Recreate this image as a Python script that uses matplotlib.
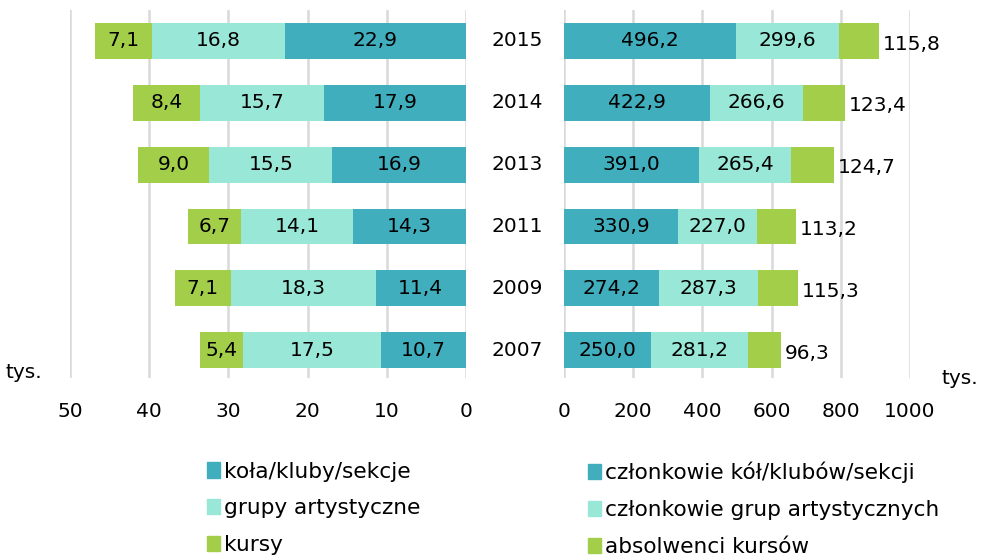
import numpy as np
import matplotlib
matplotlib.use("Agg")
import matplotlib.pyplot as plt
from matplotlib.patches import Patch

plt.rcParams['font.family'] = ['DejaVu Sans']

years = ['2015', '2014', '2013', '2011', '2009', '2007']

# liczba (tys.)
kola = [22.9, 17.9, 16.9, 14.3, 11.4, 10.7]
grupy = [16.8, 15.7, 15.5, 14.1, 18.3, 17.5]
kursy = [7.1, 8.4, 9.0, 6.7, 7.1, 5.4]

# uczestnicy (tys.)
czl_kol = [496.2, 422.9, 391.0, 330.9, 274.2, 250.0]
czl_grup = [299.6, 266.6, 265.4, 227.0, 287.3, 281.2]
absolwenci = [115.8, 123.4, 124.7, 113.2, 115.3, 96.3]

c_teal = '#41AEBE'
c_mint = '#99E8D7'
c_green = '#A2CE49'
fs = 14.5
fs_leg = 15.6

def fmt(v):
    return f"{v:.1f}".replace('.', ',')

fig = plt.figure(figsize=(9.85, 5.58), dpi=100)
axL = fig.add_axes([70/985, 1-378/558, (466-70)/985, (378-10)/558])
axR = fig.add_axes([564/985, 1-378/558, (910-564)/985, (378-10)/558])

y = np.arange(len(years))[::-1]
h = 0.58

# lewy panel
left = np.zeros(len(years))
for vals, col in [(kola, c_teal), (grupy, c_mint), (kursy, c_green)]:
    vals = np.array(vals)
    axL.barh(y, vals, left=left, height=h, color=col, zorder=3)
    for yi, l, v in zip(y, left, vals):
        axL.text(l + v/2, yi, fmt(v), ha='center', va='center', fontsize=fs, zorder=4)
    left = left + vals
axL.set_xlim(50, 0)
axL.set_xticks([50, 40, 30, 20, 10, 0])

# prawy panel
left = np.zeros(len(years))
for i, (vals, col) in enumerate([(czl_kol, c_teal), (czl_grup, c_mint), (absolwenci, c_green)]):
    vals = np.array(vals)
    axR.barh(y, vals, left=left, height=h, color=col, zorder=3)
    for yi, l, v in zip(y, left, vals):
        if i < 2:
            axR.text(l + v/2, yi, fmt(v), ha='center', va='center', fontsize=fs, zorder=4)
        else:
            axR.text(l + v + 10, yi - 0.05, fmt(v), ha='left', va='center', fontsize=fs,
                     zorder=4, clip_on=False)
    left = left + vals
axR.set_xlim(0, 1000)
axR.set_xticks([0, 200, 400, 600, 800, 1000])

for ax in (axL, axR):
    ax.set_ylim(-0.45, 5.5)
    ax.set_yticks([])
    for s in ax.spines.values():
        s.set_visible(False)
    ax.grid(axis='x', color='#D9D9D9', linewidth=1.8, zorder=0)
    ax.tick_params(axis='x', length=0, labelsize=fs, pad=17)

for yi, yr in zip(y, years):
    axL.text(-6.5, yi, yr, ha='center', va='center', fontsize=fs, clip_on=False)

fig.text(5/985, 1-373/558, 'tys.', ha='left', va='center', fontsize=fs)
fig.text(942/985, 1-378/558, 'tys.', ha='left', va='center', fontsize=fs)

h1 = [Patch(color=c_teal), Patch(color=c_mint), Patch(color=c_green)]
leg_kw = dict(loc='upper left', frameon=False, fontsize=fs_leg, handlelength=0.6,
              handleheight=0.7, handletextpad=0.2, labelspacing=0.78)
fig.legend(h1, ['koła/kluby/sekcje', 'grupy artystyczne', 'kursy'],
           bbox_to_anchor=(187/985, 1-442/558), **leg_kw)
fig.legend(h1, ['członkowie kół/klubów/sekcji', 'członkowie grup artystycznych', 'absolwenci kursów'],
           bbox_to_anchor=(568/985, 1-442/558), **leg_kw)

fig.savefig('out.png', dpi=100)
